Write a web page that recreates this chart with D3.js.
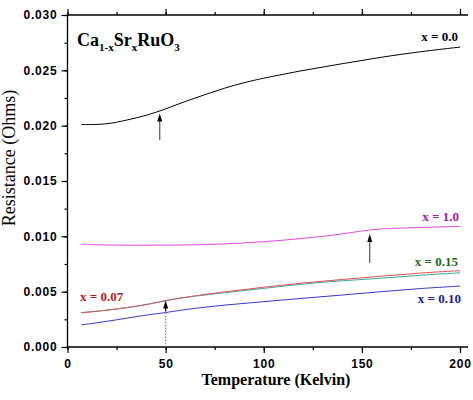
<!DOCTYPE html>
<html><head><meta charset="utf-8">
<script src="https://cdn.jsdelivr.net/npm/d3@7"></script>
<style>body{margin:0;background:#fff}svg{display:block}</style>
</head><body>
<svg id="c" width="473" height="400"></svg>
<script>
// ---- data ----
const temps0 = [7,20,30,40,50,60,70,80,90,100,120,140,160,180,200];
const r00   = [0.0201,0.0201,0.0205,0.0209,0.0215,0.0222,0.0228,0.0234,0.0239,0.0243,0.0250,0.0256,0.0262,0.0267,0.0271];
const tempsP = [7,20,40,60,80,100,120,140,150,160,180,200];
const r10   = [0.0093,0.0092,0.0092,0.0092,0.0093,0.0095,0.0098,0.0102,0.0105,0.0107,0.0108,0.0109];
const tempsL = [7,20,40,50,60,80,100,120,140,160,180,200];
const r007  = [0.0031,0.0033,0.0038,0.0042,0.0045,0.0050,0.0054,0.0058,0.0061,0.0064,0.0067,0.0069];
const r015  = [0.0031,0.0033,0.0038,0.0042,0.0045,0.0049,0.0053,0.0057,0.0060,0.0062,0.0065,0.0067];
const r010  = [0.0020,0.0023,0.0029,0.0031,0.0034,0.0038,0.0041,0.0044,0.0047,0.0050,0.0053,0.0055];
const seriesNames = ["x = 0.0","x = 1.0","x = 0.07","x = 0.15","x = 0.10"];
const xTicks = [0,50,100,150,200];
const yTicks = [0,0.005,0.010,0.015,0.020,0.025,0.030];
const yTickLabels = ["0.000","0.005","0.010","0.015","0.020","0.025","0.030"];
// arrows: [T, from, to]
const arrows = [[47,0.0187,0.0211],[154,0.0076,0.0102]];
const dotArrow = [50,0.0,0.0032,0.0042];

const svg = d3.select("#c");
const x = d3.scaleLinear([0,200],[67.5,460]);
const y = d3.scaleLinear([0,0.03],[347,15]);

const line = d3.line().x(d=>x(d[0])).y(d=>y(d[1])).curve(d3.curveBasis);
const zip = (a,b)=>a.map((t,i)=>[t,b[i]]);

const series = [
  {t:temps0,v:r00,color:"#000000"},
  {t:tempsP,v:r10,color:"#e048e0"},
  {t:tempsL,v:r015,color:"#3aa898"},
  {t:tempsL,v:r007,color:"#e05050"},
  {t:tempsL,v:r010,color:"#3838c8"}
];
series.forEach(s=>{
  svg.append("path").attr("d",line(zip(s.t,s.v))).attr("fill","none")
    .attr("stroke",s.color).attr("stroke-width",1);
});

// axes
const axStyle = g=>{g.select(".domain").remove();g.selectAll("line").attr("stroke","#000").attr("stroke-width",1.2);};
const yMinor = d3.range(0,0.0301,0.0025);
const xMinor = d3.range(0,201,25);
const tickFont = g=>g.selectAll("text").attr("font-family","'Liberation Sans',Arial,sans-serif")
    .attr("font-weight","bold").attr("font-size","12px").attr("letter-spacing","0.8px").attr("fill","#000");
svg.append("g").attr("transform","translate(67.5,0)")
  .call(d3.axisLeft(y).tickValues(yMinor).tickSize(3).tickFormat(""))
  .call(axStyle);
svg.append("g").attr("transform","translate(67.5,0)")
  .call(d3.axisLeft(y).tickValues(yTicks).tickSize(6).tickPadding(4).tickFormat((d,i)=>yTickLabels[i]))
  .call(axStyle).call(tickFont);
svg.append("g").attr("transform","translate(0,347)")
  .call(d3.axisBottom(x).tickValues(xMinor).tickSize(3).tickFormat(""))
  .call(axStyle);
svg.append("g").attr("transform","translate(0,347)")
  .call(d3.axisBottom(x).tickValues(xTicks).tickSize(6).tickPadding(6).tickFormat(d3.format("d")))
  .call(axStyle).call(tickFont);
svg.append("g").attr("transform","translate(0,15)")
  .call(d3.axisTop(x).tickValues(xMinor).tickSize(3).tickFormat(""))
  .call(axStyle);
svg.append("g").attr("transform","translate(0,15)")
  .call(d3.axisTop(x).tickValues(xTicks).tickSize(6).tickFormat(""))
  .call(axStyle);
// frame lines
svg.append("line").attr("x1",67.5).attr("x2",67.5).attr("y1",15).attr("y2",347).attr("stroke","#000").attr("stroke-width",1.3);
svg.append("line").attr("x1",67).attr("x2",468).attr("y1",347).attr("y2",347).attr("stroke","#000").attr("stroke-width",1.3);
svg.append("line").attr("x1",67).attr("x2",468).attr("y1",15).attr("y2",15).attr("stroke","#000").attr("stroke-width",1.3);

// arrows
const head = (tx,ty)=>svg.append("path")
  .attr("d",`M${tx},${ty} L${tx-2.5},${ty+8} L${tx+2.5},${ty+8} Z`).attr("fill","#000");
arrows.forEach(a=>{
  const px = x(a[0]);
  svg.append("line").attr("x1",px).attr("x2",px).attr("y1",y(a[1])).attr("y2",y(a[2])+6)
    .attr("stroke","#555").attr("stroke-width",1.2);
  head(px,y(a[2]));
});
{
  const px = x(dotArrow[0]);
  svg.append("line").attr("x1",px).attr("x2",px).attr("y1",y(dotArrow[1])).attr("y2",y(dotArrow[2]))
    .attr("stroke","#888").attr("stroke-width",1.2).attr("stroke-dasharray","1.5,1.5");
  svg.append("line").attr("x1",px).attr("x2",px).attr("y1",y(dotArrow[2])).attr("y2",y(dotArrow[3])+6)
    .attr("stroke","#000").attr("stroke-width",1.2);
  head(px,y(dotArrow[3]));
}

// series labels
const serif = "'Liberation Serif','Times New Roman',serif";
const labs = [
  {i:0,x:458,y:41,anchor:"end",c:"#000000"},
  {i:1,x:459,y:221,anchor:"end",c:"#a020a8"},
  {i:2,x:80,y:301,anchor:"start",c:"#b01c1c"},
  {i:3,x:458,y:266,anchor:"end",c:"#1a6a1a"},
  {i:4,x:461,y:303,anchor:"end",c:"#1c1c9c"}
];
labs.forEach(l=>{
  svg.append("text").attr("x",l.x).attr("y",l.y).attr("text-anchor",l.anchor)
    .attr("font-family",serif).attr("font-weight","bold").attr("font-size","13px")
    .attr("fill",l.c).text(seriesNames[l.i]);
});

// title formula
const tt = svg.append("text").attr("x",77).attr("y",46).attr("font-family",serif)
  .attr("font-weight","bold").attr("font-size","18px").attr("fill","#000");
tt.append("tspan").text("Ca");
tt.append("tspan").attr("font-size","11px").attr("dy",5).text("1-x");
tt.append("tspan").attr("dy",-5).text("Sr");
tt.append("tspan").attr("font-size","11px").attr("dy",5).text("x");
tt.append("tspan").attr("dy",-5).text("RuO");
tt.append("tspan").attr("font-size","11px").attr("dy",5).text("3");

// axis titles
svg.append("text").attr("x",276).attr("y",385).attr("text-anchor","middle")
  .attr("font-family",serif).attr("font-weight","bold").attr("font-size","16px").attr("fill","#000")
  .text("Temperature (Kelvin)");
svg.append("text").attr("transform","translate(15,158) rotate(-90)").attr("text-anchor","middle")
  .attr("font-family",serif).attr("font-size","18px").attr("fill","#000")
  .text("Resistance (Ohms)");
</script>
</body></html>
